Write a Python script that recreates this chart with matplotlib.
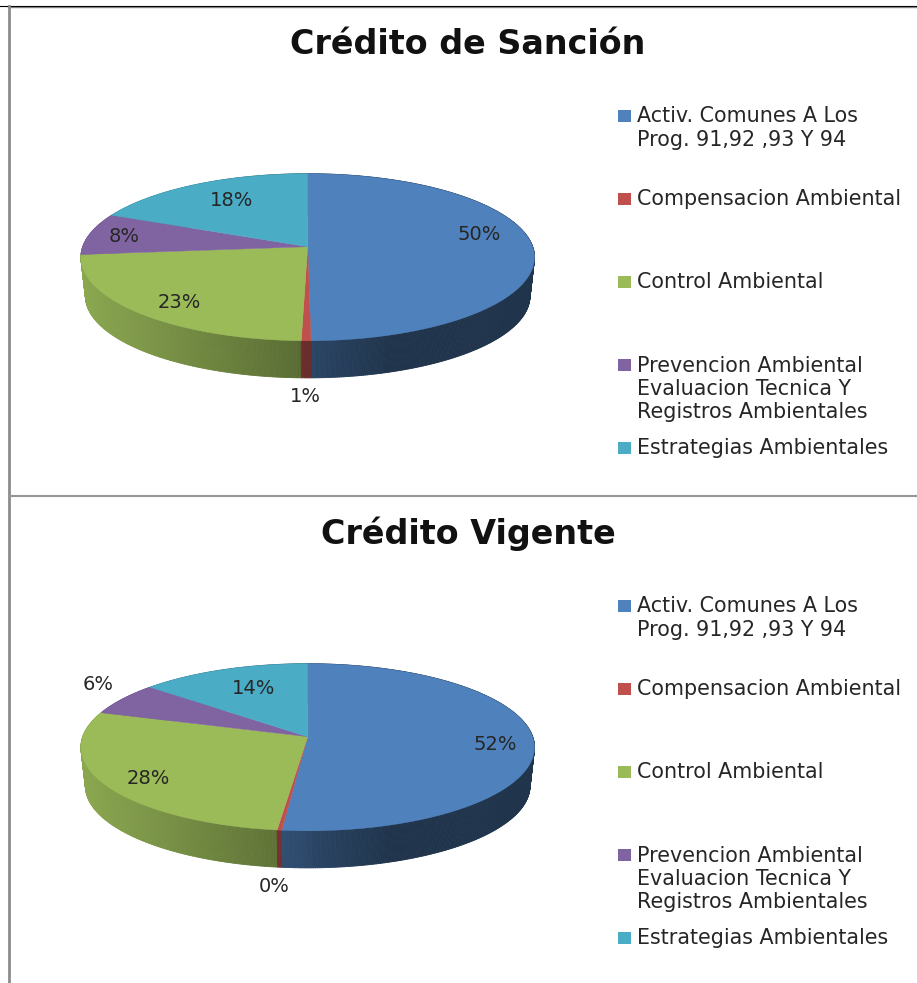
"""
Credito de Sancion / Credito Vigente - tortas 3D estilo Excel
"""
import numpy as np
import matplotlib
matplotlib.use('Agg')
import matplotlib.pyplot as plt
from matplotlib.collections import PolyCollection
from matplotlib.patches import Rectangle

# datos
titulos = ['Crédito de Sanción', 'Crédito Vigente']
categorias = ['Activ. Comunes A Los\nProg. 91,92 ,93 Y 94',
              'Compensacion Ambiental',
              'Control Ambiental',
              'Prevencion Ambiental\nEvaluacion Tecnica Y\nRegistros Ambientales',
              'Estrategias Ambientales']
sancion = [49.8, 0.6, 23.1, 8.1, 18.4]
vigente = [51.6, 0.3, 28.0, 6.4, 13.7]

colores = ['#4F81BD', '#C0504D', '#9BBB59', '#8064A2', '#4BACC6']

# posiciones de etiquetas y leyenda (en pixeles del panel superior)
pos_sancion = [(479, 235), (305, 397), (179, 303), (124, 237), (232, 201)]
pos_vigente = [(495, 255), (274, 397), (148, 289), (98, 195), (254, 198)]
ley_y = [128, 199, 282, 389, 448]

# geometria de la torta
CX, CY = 307.7, 246.7
A, B, K = 225.0, 82.2, 0.126
PROF = 39.0
ESC_BASE = 0.98
DY = 490

FUENTE = 'DejaVu Sans'
TEXTO = '#262626'


def proyecta(ang, escala=1.0, dy=0.0):
    """ang en grados, horario desde arriba -> pixeles con perspectiva"""
    u = np.sin(np.radians(ang))
    v = np.cos(np.radians(ang))
    d = 1 + K * v
    return CX + escala * A * u / d, CY + dy - escala * B * v / d


def sombra(x):
    # la pared se oscurece de izquierda a derecha
    return np.interp(x, [86, 300, 313, 393], [0.89, 0.58, 0.53, 0.40])


def torta(ax, valores, posiciones):
    bordes = np.concatenate([[0], np.cumsum(valores)]) * 360.0 / np.sum(valores)

    # pared lateral, de atras hacia adelante
    tramos = []
    for i, col in enumerate(colores):
        base = np.array(matplotlib.colors.to_rgb(col))
        ang = np.linspace(bordes[i], bordes[i + 1], max(3, int(bordes[i + 1] - bordes[i]) * 2))
        for a0, a1 in zip(ang[:-1], ang[1:]):
            x0, y0 = proyecta(a0)
            x1, y1 = proyecta(a1)
            x2, y2 = proyecta(a1, ESC_BASE, PROF)
            x3, y3 = proyecta(a0, ESC_BASE, PROF)
            tramos.append((y0 + y1, [(x0, y0), (x1, y1), (x2, y2), (x3, y3)],
                           base * sombra((x0 + x1) / 2)))
    tramos.sort(key=lambda t: t[0])
    quads = [t[1] for t in tramos]
    cols = [t[2] for t in tramos]
    ax.add_collection(PolyCollection(quads, facecolors=cols, edgecolors=cols, linewidths=0.6))

    # cara superior
    for i, col in enumerate(colores):
        ang = np.linspace(bordes[i], bordes[i + 1], 120)
        x, y = proyecta(ang)
        ax.fill(np.r_[CX, x], np.r_[CY, y], color=col, lw=0.3)

    # etiquetas de porcentaje
    for val, (px, py) in zip(valores, posiciones):
        ax.text(px, py, f'{round(val)}%', ha='center', va='center',
                fontsize=14, color=TEXTO, family=FUENTE)


def leyenda(ax):
    for nom, col, y in zip(categorias, colores, ley_y):
        n = nom.count('\n')
        y_sq = y - 12 * n
        ax.add_patch(Rectangle((618, y_sq - 6), 13, 12, color=col, lw=0))
        ax.text(637, y, nom, ha='left', va='center', fontsize=14.9,
                color=TEXTO, family=FUENTE, linespacing=1.21)


fig = plt.figure(figsize=(9.17, 9.83), dpi=100)
H = 983.0
for i, (titulo, valores, pos) in enumerate(zip(titulos, [sancion, vigente],
                                               [pos_sancion, pos_vigente])):
    ax = fig.add_axes([0, 1 - (496 + i * DY) / H, 1, 490 / H])
    ax.set_xlim(0, 917)
    ax.set_ylim(496, 6)
    ax.axis('off')
    torta(ax, valores, pos)
    leyenda(ax)
    ax.text(468, 44, titulo, ha='center', va='center', fontsize=24,
            fontweight='bold', color='#111111', family=FUENTE)

# marco de la tabla
ax0 = fig.add_axes([0, 0, 1, 1])
ax0.set_xlim(0, 917)
ax0.set_ylim(983, 0)
ax0.axis('off')
ax0.patch.set_alpha(0)
ax0.plot([8, 917], [7, 7], color='#8c8c8c', lw=1.0)
ax0.plot([0, 917], [5.5, 5.5], color='black', lw=0.8)
ax0.plot([9.3, 9.3], [6, 983], color='#8c8c8c', lw=2.0)
ax0.plot([9, 917], [496, 496], color='#969696', lw=1.5)

fig.savefig('out.png', dpi=100)
